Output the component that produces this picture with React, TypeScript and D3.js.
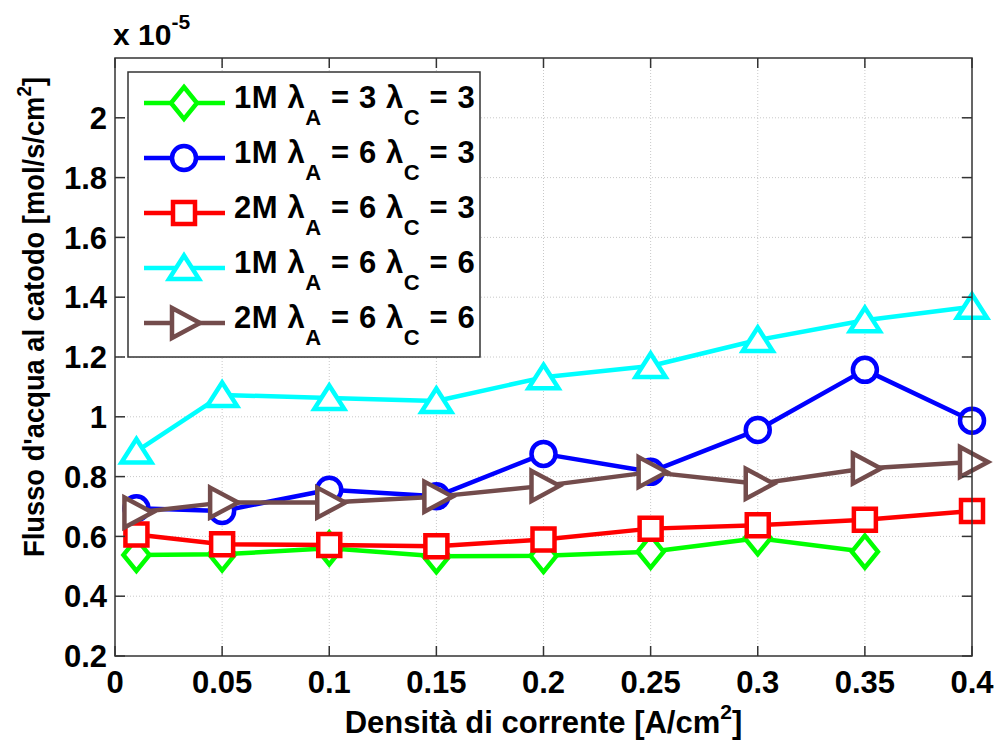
import React, { useEffect, useRef } from 'react';
import * as d3 from 'd3';

// densità di corrente [A/cm2]
const currentDensity = [0.01, 0.05, 0.1, 0.15, 0.2, 0.25, 0.3, 0.35, 0.4];

// flusso d'acqua al catodo, x 1e-5 mol/s/cm2
const flow1M_A3_C3 = [0.538, 0.54, 0.56, 0.534, 0.535, 0.549, 0.594, 0.549];
const flow1M_A6_C3 = [0.694, 0.685, 0.756, 0.734, 0.876, 0.816, 0.956, 1.157, 0.987];
const flow2M_A6_C3 = [0.606, 0.574, 0.571, 0.567, 0.59, 0.626, 0.637, 0.656, 0.685];
const flow1M_A6_C6 = [0.884, 1.073, 1.063, 1.053, 1.132, 1.17, 1.257, 1.323, 1.368];
const flow2M_A6_C6 = [0.68, 0.713, 0.713, 0.733, 0.769, 0.815, 0.776, 0.827, 0.849];

const concentrations = ['1M', '1M', '2M', '1M', '2M'];
const lambdaA = [3, 6, 6, 6, 6];
const lambdaC = [3, 3, 3, 6, 6];
const colors = ['#00ff00', '#0000ff', '#ff0000', '#00ffff', '#734c4c'];
const markers = ['diamond', 'circle', 'square', 'triangleUp', 'triangleRight'];

const xTicks = [0, 0.05, 0.1, 0.15, 0.2, 0.25, 0.3, 0.35, 0.4];
const yTicks = [0.2, 0.4, 0.6, 0.8, 1, 1.2, 1.4, 1.6, 1.8, 2];

const markerPath = (type: string) => {
  switch (type) {
    case 'diamond':
      return 'M0,-16L13,0L0,16L-13,0Z';
    case 'circle':
      return 'M12,0A12,12 0 1,1 -12,0A12,12 0 1,1 12,0Z';
    case 'square':
      return 'M-11,-11H11V11H-11Z';
    case 'triangleUp':
      return 'M0,-12.5L15,11L-15,11Z';
    default:
      return 'M-12,-15L16,0L-12,15Z';
  }
};

const App = () => {
  const svgRef = useRef<SVGSVGElement | null>(null);

  useEffect(() => {
    const width = 996;
    const height = 745;
    const margin = { top: 58, right: 24, bottom: 89, left: 115 };
    const font = '"Liberation Sans", Arial, sans-serif';
    const fs = 31;
    const lw = 4.5;

    const svgEl = d3.select(svgRef.current);
    svgEl.selectAll('*').remove();
    const svg = svgEl.attr('width', width).attr('height', height);

    svg.append('rect').attr('width', width).attr('height', height).attr('fill', '#fff');

    const x = d3.scaleLinear().domain([0, 0.4]).range([margin.left, width - margin.right]);
    const y = d3.scaleLinear().domain([0.2, 2.2]).range([height - margin.bottom, margin.top]);
    const [x0, x1] = x.range();
    const [y0, y1] = y.range();

    // grid
    const grid = svg.append('g').attr('stroke', '#c8c8c8').attr('stroke-width', 1).attr('stroke-dasharray', '1,2');
    xTicks.slice(1, -1).forEach(t => {
      grid.append('line').attr('x1', x(t)).attr('x2', x(t)).attr('y1', y0).attr('y2', y1);
    });
    yTicks.slice(1).forEach(t => {
      grid.append('line').attr('x1', x0).attr('x2', x1).attr('y1', y(t)).attr('y2', y(t));
    });

    // series
    const series = [flow1M_A3_C3, flow1M_A6_C3, flow2M_A6_C3, flow1M_A6_C6, flow2M_A6_C6];
    const lineGen = d3.line<number>()
      .x((d, i) => x(currentDensity[i]))
      .y(d => y(d));

    series.forEach((vals, s) => {
      svg.append('path')
        .datum(vals)
        .attr('fill', 'none')
        .attr('stroke', colors[s])
        .attr('stroke-width', lw)
        .attr('stroke-linejoin', 'round')
        .attr('d', lineGen);
      svg.append('g')
        .selectAll('path')
        .data(vals)
        .join('path')
        .attr('transform', (d, i) => `translate(${x(currentDensity[i])},${y(d)})`)
        .attr('d', markerPath(markers[s]))
        .attr('fill', '#fff')
        .attr('stroke', colors[s])
        .attr('stroke-width', lw);
    });

    // frame and ticks
    const axisColor = '#333';
    svg.append('rect')
      .attr('x', x0).attr('y', y1)
      .attr('width', x1 - x0).attr('height', y0 - y1)
      .attr('fill', 'none').attr('stroke', axisColor).attr('stroke-width', 1.5);

    const tickLen = 10;
    const ticks = svg.append('g').attr('stroke', axisColor).attr('stroke-width', 1.5);
    xTicks.forEach(t => {
      ticks.append('line').attr('x1', x(t)).attr('x2', x(t)).attr('y1', y0).attr('y2', y0 - tickLen);
      ticks.append('line').attr('x1', x(t)).attr('x2', x(t)).attr('y1', y1).attr('y2', y1 + tickLen);
    });
    yTicks.forEach(t => {
      ticks.append('line').attr('x1', x0).attr('x2', x0 + tickLen).attr('y1', y(t)).attr('y2', y(t));
      ticks.append('line').attr('x1', x1).attr('x2', x1 - tickLen).attr('y1', y(t)).attr('y2', y(t));
    });

    const fmt = (v: number) => String(+v.toFixed(2));

    svg.append('g')
      .selectAll('text')
      .data(xTicks)
      .join('text')
      .attr('x', d => x(d))
      .attr('y', y0 + 37)
      .attr('text-anchor', 'middle')
      .style('font', `bold ${fs}px ${font}`)
      .text(d => fmt(d));

    svg.append('g')
      .selectAll('text')
      .data(yTicks)
      .join('text')
      .attr('x', x0 - 8)
      .attr('y', d => y(d))
      .attr('dy', '0.36em')
      .attr('text-anchor', 'end')
      .style('font', `bold ${fs}px ${font}`)
      .text(d => fmt(d));

    // exponent
    const expo = svg.append('text')
      .attr('x', 113).attr('y', 45)
      .style('font', `bold 30px ${font}`);
    expo.append('tspan').text('x 10');
    expo.append('tspan').attr('dy', -16).style('font-size', '21px').text('-5');

    // axis labels
    const xl = svg.append('text')
      .attr('x', (x0 + x1) / 2).attr('y', 733)
      .attr('text-anchor', 'middle')
      .style('font', `bold ${fs}px ${font}`);
    xl.append('tspan').text('Densità di corrente [A/cm');
    xl.append('tspan').attr('dy', -14).style('font-size', '21px').text('2');
    xl.append('tspan').attr('dy', 14).text(']');

    const yl = svg.append('text')
      .attr('transform', 'translate(44,317) rotate(-90)')
      .attr('text-anchor', 'middle')
      .attr('textLength', 480)
      .attr('lengthAdjust', 'spacingAndGlyphs')
      .style('font', `bold 29px ${font}`);
    yl.append('tspan').text("Flusso d'acqua al catodo [mol/s/cm");
    yl.append('tspan').attr('dy', -13).style('font-size', '20px').text('2');
    yl.append('tspan').attr('dy', 13).text(']');

    // legend
    const lg = svg.append('g');
    lg.append('rect')
      .attr('x', 128).attr('y', 72).attr('width', 352).attr('height', 285)
      .attr('fill', '#fff').attr('stroke', axisColor).attr('stroke-width', 1.5);

    concentrations.forEach((c, i) => {
      const ry = 103 + i * 55;
      lg.append('line')
        .attr('x1', 144).attr('x2', 225).attr('y1', ry).attr('y2', ry)
        .attr('stroke', colors[i]).attr('stroke-width', lw);
      lg.append('path')
        .attr('transform', `translate(184,${ry})`)
        .attr('d', markerPath(markers[i]))
        .attr('fill', '#fff').attr('stroke', colors[i]).attr('stroke-width', lw);
      const t = lg.append('text')
        .attr('x', 234).attr('y', ry + 5)
        .style('font', `bold ${fs}px ${font}`)
        .style('letter-spacing', '0.6px');
      t.append('tspan').text(`${c} λ`);
      t.append('tspan').attr('dy', 17).style('font-size', '22px').text('A');
      t.append('tspan').attr('dy', -17).text(` = ${lambdaA[i]} λ`);
      t.append('tspan').attr('dy', 17).style('font-size', '22px').text('C');
      t.append('tspan').attr('dy', -17).text(` = ${lambdaC[i]}`);
    });
  }, []);

  return (
    <svg ref={svgRef} style={{ position: 'absolute', left: 0, top: 0, display: 'block' }}></svg>
  );
};

export default App;
